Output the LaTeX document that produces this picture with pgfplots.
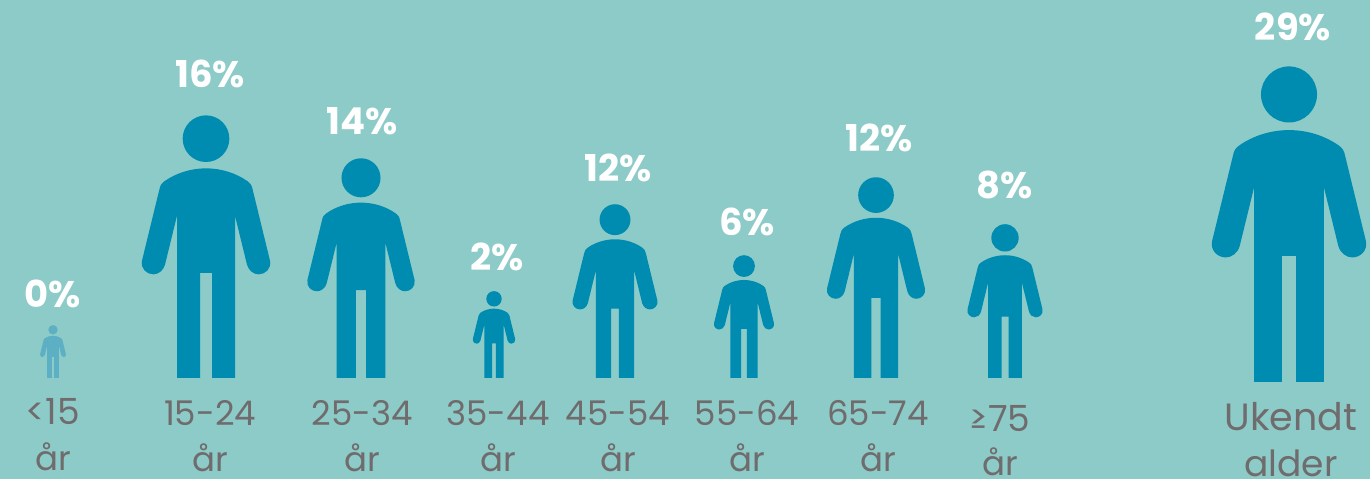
\documentclass[border=0pt]{standalone}
\usepackage{fontspec}
\setmainfont{Poppins}
\usepackage{pgfplots}
\pgfplotsset{compat=1.18}
\definecolor{bgc}{HTML}{8CCBC7}
\definecolor{fig}{HTML}{008BB0}
\definecolor{figl}{HTML}{5DB0C3}
\definecolor{lab}{HTML}{706C6D}
\pgfdeclareplotmark{person}{%
  \pgfmathsetmacro\ps{\pgfplotmarksize/789}%
  \pgftransformscale{\ps}%
  \pgfpathcircle{\pgfpoint{0pt}{718pt}}{70pt}%
  \pgfpathmoveto{\pgfpoint{-87pt}{0pt}}%
  \pgfpathlineto{\pgfpoint{-87pt}{487pt}}%
  \pgfpathlineto{\pgfpoint{-123pt}{340pt}}%
  \pgfpathcurveto{\pgfpoint{-128pt}{322pt}}{\pgfpoint{-143pt}{311pt}}{\pgfpoint{-158pt}{311pt}}%
  \pgfpathcurveto{\pgfpoint{-178pt}{311pt}}{\pgfpoint{-197pt}{328pt}}{\pgfpoint{-192pt}{352pt}}%
  \pgfpathlineto{\pgfpoint{-140pt}{565pt}}%
  \pgfpathcurveto{\pgfpoint{-138pt}{578pt}}{\pgfpoint{-132pt}{585pt}}{\pgfpoint{-125pt}{590pt}}%
  \pgfpathcurveto{\pgfpoint{-90pt}{615pt}}{\pgfpoint{-45pt}{629pt}}{\pgfpoint{0pt}{629pt}}%
  \pgfpathcurveto{\pgfpoint{45pt}{629pt}}{\pgfpoint{90pt}{615pt}}{\pgfpoint{125pt}{590pt}}%
  \pgfpathcurveto{\pgfpoint{132pt}{585pt}}{\pgfpoint{138pt}{578pt}}{\pgfpoint{140pt}{565pt}}%
  \pgfpathlineto{\pgfpoint{192pt}{352pt}}%
  \pgfpathcurveto{\pgfpoint{197pt}{328pt}}{\pgfpoint{178pt}{311pt}}{\pgfpoint{158pt}{311pt}}%
  \pgfpathcurveto{\pgfpoint{143pt}{311pt}}{\pgfpoint{128pt}{322pt}}{\pgfpoint{123pt}{340pt}}%
  \pgfpathlineto{\pgfpoint{87pt}{487pt}}%
  \pgfpathlineto{\pgfpoint{87pt}{0pt}}%
  \pgfpathlineto{\pgfpoint{18pt}{0pt}}%
  \pgfpathlineto{\pgfpoint{18pt}{315pt}}%
  \pgfpathlineto{\pgfpoint{-18pt}{315pt}}%
  \pgfpathlineto{\pgfpoint{-18pt}{0pt}}%
  \pgfpathclose
  \pgfusepathqfill
}
\newcommand\fa{\fontsize{38}{40}\selectfont}
\newcommand\fb{\fontsize{36}{40}\selectfont}
\begin{document}
\begin{tikzpicture}
\begin{axis}[
  scale only axis, x=1pt, y=1pt,
  xmin=0, xmax=1370, ymin=0, ymax=479,
  xtick=\empty, ytick=\empty,
  axis line style={draw=none},
  axis background/.style={fill=bgc},
  clip=false,
  /pgf/number format/assume math mode=true,
  nodes near coords style={anchor=base, inner sep=0pt, outer sep=0pt},
]
% figures: x, base (height from bottom), figure height
\addplot[scatter, only marks, mark=person, point meta=\thisrow{pct},
  scatter/use mapped color={draw=none, fill=fig},
  visualization depends on={\thisrow{h} \as \perh},
  scatter/@pre marker code/.append style={/tikz/mark size=\perh}]
table {
x y h pct
206 101 263 16
361 101 220 14
494 101 87 2
615 101 174 12
744 101 123 6
876 101 201 12
1005 101 154 8
1289 97 316 29
};
\addplot[scatter, only marks, mark=person, point meta=\thisrow{pct},
  scatter/use mapped color={draw=none, fill=figl},
  visualization depends on={\thisrow{h} \as \perh},
  scatter/@pre marker code/.append style={/tikz/mark size=\perh}]
table {
x y h pct
53 101 53 0
};
% percentages
\addplot[only marks, mark=none, point meta=explicit,
  nodes near coords={\pgfmathprintnumber{\pgfplotspointmeta}\%},
  nodes near coords style={text=white, font=\fontsize{37}{40}\selectfont\bfseries}]
coordinates {
(53,171)[0] (210,391)[16] (362,344)[14] (497,208)[2] (618,297)[12]
(747,243)[6] (879,327)[12] (1005,280)[8] (1293,438)[29]
};
% category labels, first line
\addplot[only marks, mark=none, point meta=explicit symbolic,
  nodes near coords={\pgfplotspointmeta},
  nodes near coords style={text=lab, font=\fontsize{34}{38}\selectfont}]
coordinates {
(53,54)[{\fb <15}] (210,53)[15-24] (362,53)[25-34] (498,53)[35-44] (618,53)[45-54]
(747,53)[55-64] (878,53)[65-74] (1000,47)[{\fb ≥75}] (1291,48)[{\fa Ukendt}]
};
% category labels, second line
\addplot[only marks, mark=none, point meta=explicit symbolic,
  nodes near coords={\pgfplotspointmeta},
  nodes near coords style={text=lab, font=\fontsize{34}{38}\selectfont}]
coordinates {
(53,9)[år] (210,7)[år] (362,7)[år] (498,7)[år] (618,7)[år]
(747,7)[år] (878,7)[år] (1000,3)[år] (1291,2)[{\fb alder}]
};
\end{axis}
\end{tikzpicture}
\end{document}
